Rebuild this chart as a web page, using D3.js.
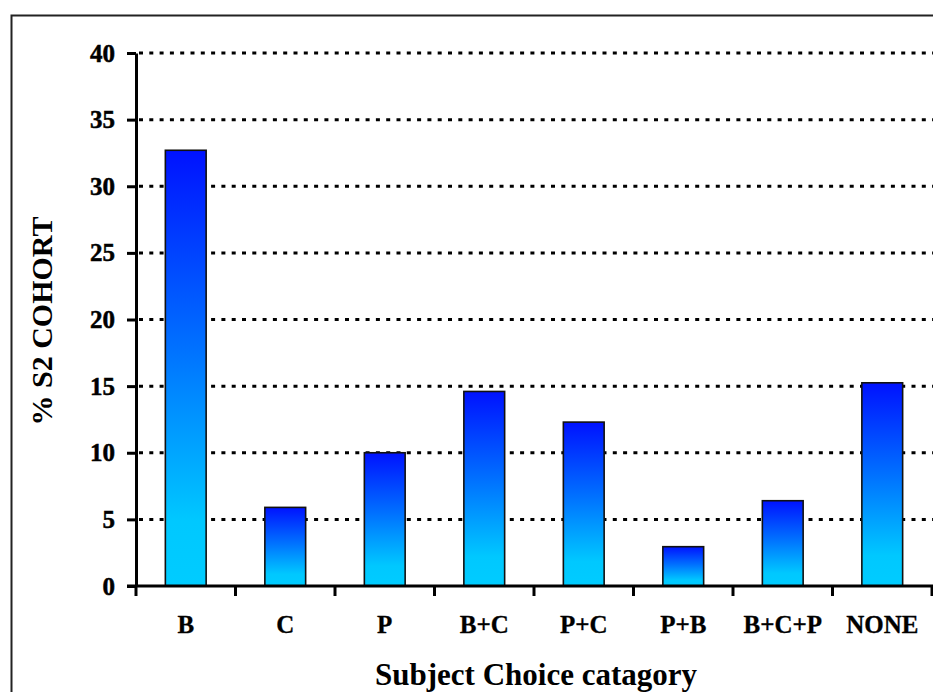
<!DOCTYPE html>
<html>
<head>
<meta charset="utf-8">
<script src="https://cdn.jsdelivr.net/npm/d3@7"></script>
<style>
  html, body { margin: 0; padding: 0; background: #fff; }
  svg { display: block; }
</style>
</head>
<body>
<script>
// Share of the S2 cohort by subject choice category
const categories = ["B", "C", "P", "B+C", "P+C", "P+B", "B+C+P", "NONE"];
const percentages = [32.7, 5.9, 10.0, 14.6, 12.3, 2.95, 6.4, 15.25];
const yTicks = [0, 5, 10, 15, 20, 25, 30, 35, 40];

const W = 933, H = 692;
const serif = "'Liberation Serif', 'Times New Roman', serif";
const svg = d3.select("body").append("svg").attr("width", W).attr("height", H);

// outer chart frame (runs past the right and bottom edges)
svg.append("rect")
  .attr("x", 11.5).attr("y", 15.5)
  .attr("width", 960).attr("height", 720)
  .attr("fill", "none").attr("stroke", "#222").attr("stroke-width", 2);

const plot = { left: 136, right: 932, top: 53, bottom: 586 };

const x = d3.scaleBand()
  .domain(categories)
  .range([plot.left, plot.right])
  .paddingInner(0.59)
  .paddingOuter(0.295);

const y = d3.scaleLinear().domain([0, 40]).range([plot.bottom, plot.top]);

// bar fill: deep blue at the top fading to cyan at the base
const grad = svg.append("defs").append("linearGradient")
  .attr("id", "barFill").attr("x1", 0).attr("y1", 0).attr("x2", 0).attr("y2", 1);
grad.append("stop").attr("offset", "0%").attr("stop-color", "#0012ff");
grad.append("stop").attr("offset", "45%").attr("stop-color", "#0070ff");
grad.append("stop").attr("offset", "85%").attr("stop-color", "#00c8ff");
grad.append("stop").attr("offset", "100%").attr("stop-color", "#00ccff");

// dotted horizontal gridlines
svg.append("g")
  .selectAll("line")
  .data(yTicks.filter(d => d > 0))
  .join("line")
  .attr("x1", plot.left + 3).attr("x2", W)
  .attr("y1", d => y(d)).attr("y2", d => y(d))
  .attr("stroke", "#000").attr("stroke-width", 3)
  .attr("stroke-dasharray", "4,6.3");

// bars
svg.append("g")
  .selectAll("rect")
  .data(categories.map((c, i) => ({ c, v: percentages[i] })))
  .join("rect")
  .attr("x", d => x(d.c))
  .attr("y", d => y(d.v))
  .attr("width", x.bandwidth())
  .attr("height", d => y(0) - y(d.v))
  .attr("fill", "url(#barFill)")
  .attr("stroke", "#111").attr("stroke-width", 1.6);

// y axis
const yAxis = svg.append("g")
  .attr("transform", `translate(${plot.left},0)`)
  .call(d3.axisLeft(y).tickValues(yTicks).tickSize(9).tickPadding(12).tickSizeOuter(0));
yAxis.select(".domain").attr("stroke", "#000").attr("stroke-width", 3);
yAxis.selectAll(".tick line").attr("stroke", "#000").attr("stroke-width", 3);
yAxis.selectAll(".tick text")
  .attr("font-family", serif)
  .attr("font-weight", "bold").attr("font-size", 25).attr("fill", "#000")
  .attr("stroke", "#000").attr("stroke-width", 0.5);

// x axis with ticks at category boundaries
const xAxisG = svg.append("g").attr("transform", `translate(0,${plot.bottom})`);
xAxisG.append("line")
  .attr("x1", plot.left - 9).attr("x2", W)
  .attr("stroke", "#000").attr("stroke-width", 3);
const step = x.step();
const boundaries = d3.range(categories.length + 1).map(i => plot.left + i * step);
xAxisG.selectAll("line.b")
  .data(boundaries)
  .join("line").attr("class", "b")
  .attr("x1", d => d).attr("x2", d => d)
  .attr("y1", 0).attr("y2", 10)
  .attr("stroke", "#000").attr("stroke-width", 3);
xAxisG.selectAll("text")
  .data(categories)
  .join("text")
  .attr("x", d => x(d) + x.bandwidth() / 2)
  .attr("y", 47)
  .attr("text-anchor", "middle")
  .attr("font-family", serif)
  .attr("font-weight", "bold").attr("font-size", 25)
  .attr("stroke", "#000").attr("stroke-width", 0.3)
  .text(d => d);

// axis titles
svg.append("text")
  .attr("x", 536).attr("y", 685)
  .attr("text-anchor", "middle")
  .attr("font-family", serif)
  .attr("font-weight", "bold").attr("font-size", 31)
  .text("Subject Choice catagory");

svg.append("text")
  .attr("transform", "translate(52,321) rotate(-90)")
  .attr("text-anchor", "middle")
  .attr("font-family", serif)
  .attr("font-weight", "bold").attr("font-size", 30)
  .text("% S2 COHORT");
</script>
</body>
</html>
